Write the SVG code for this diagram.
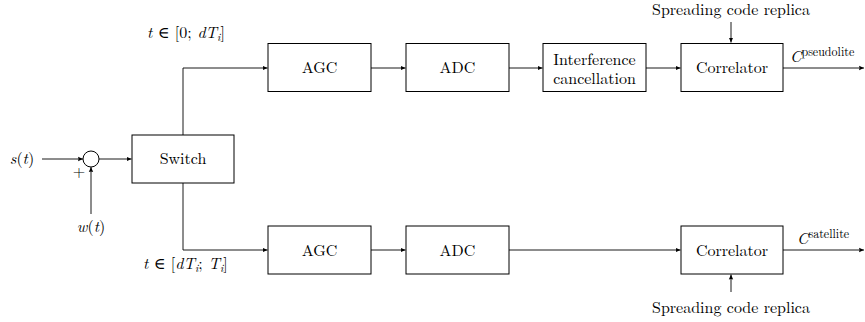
<svg xmlns="http://www.w3.org/2000/svg" width="865" height="322" viewBox="0 0 865 322">
  <style>
    text { font-family: "Latin Modern Roman", "CMU Serif", "Liberation Serif", "Times New Roman", "DejaVu Serif", serif; font-size: 16px; fill: #000; }
    .c { text-anchor: middle; }
    .m { font-style: italic; }
    .up { font-style: normal; }
    .sup { font-size: 12px; font-style: normal; }
    .sub { font-size: 11px; font-style: italic; }
    .box { fill: #fff; stroke: #000; stroke-width: 1; }
    .wire { fill: none; stroke: #000; stroke-width: 0.9; }
  </style>
  <defs>
    <marker id="tip" markerUnits="userSpaceOnUse" markerWidth="6" markerHeight="6" refX="5" refY="3" orient="auto">
      <path d="M0,0.8 L5,3 L0,5.2 Q1.2,3 0,0.8 z" fill="#000"/>
    </marker>
  </defs>

  <!-- connectors -->
  <g id="connectors">
    <line class="wire" x1="42" y1="159" x2="83" y2="159" marker-end="url(#tip)"/>
    <line class="wire" x1="91" y1="214" x2="91" y2="167" marker-end="url(#tip)"/>
    <line class="wire" x1="99" y1="159" x2="131.5" y2="159" marker-end="url(#tip)"/>
    <polyline class="wire" points="183,135 183,68 267.5,68" marker-end="url(#tip)"/>
    <polyline class="wire" points="183,183 183,250 267.5,250" marker-end="url(#tip)"/>
    <line class="wire" x1="371" y1="68" x2="405.5" y2="68" marker-end="url(#tip)"/>
    <line class="wire" x1="509" y1="68" x2="542.5" y2="68" marker-end="url(#tip)"/>
    <line class="wire" x1="646" y1="68" x2="680.5" y2="68" marker-end="url(#tip)"/>
    <line class="wire" x1="783" y1="68" x2="864" y2="68" marker-end="url(#tip)"/>
    <line class="wire" x1="731" y1="22" x2="731" y2="42.5" marker-end="url(#tip)"/>
    <line class="wire" x1="371" y1="250" x2="405.5" y2="250" marker-end="url(#tip)"/>
    <line class="wire" x1="509" y1="250" x2="680.5" y2="250" marker-end="url(#tip)"/>
    <line class="wire" x1="783" y1="250" x2="864" y2="250" marker-end="url(#tip)"/>
    <line class="wire" x1="731" y1="292" x2="731" y2="274.5" marker-end="url(#tip)"/>
  </g>

  <!-- input and noise -->
  <g id="input">
    <text x="22" y="164" class="c m">s<tspan class="up">(</tspan>t<tspan class="up">)</tspan></text>
  </g>
  <g id="adder">
    <circle cx="91" cy="159" r="8" class="box"/>
    <text x="79" y="177" class="c">+</text>
  </g>
  <g id="noise">
    <text x="91" y="232" class="c m">w<tspan class="up">(</tspan>t<tspan class="up">)</tspan></text>
  </g>

  <g id="switch">
    <rect x="132" y="135" width="102" height="48" class="box"/>
    <text x="183" y="164" class="c">Switch</text>
  </g>

  <!-- branch labels -->
  <g id="label-top">
    <text x="147" y="38" class="m">t<tspan class="up"> ∈ [0;</tspan> dT<tspan class="sub" dy="3">i</tspan><tspan class="up" dy="-3">]</tspan></text>
  </g>
  <g id="label-bottom">
    <text x="143" y="269" class="m">t<tspan class="up"> ∈ [</tspan>dT<tspan class="sub" dy="3">i</tspan><tspan dy="-3" class="up">;</tspan> T<tspan class="sub" dy="3">i</tspan><tspan class="up" dy="-3">]</tspan></text>
  </g>

  <!-- pseudolite branch -->
  <g id="agc-top">
    <rect x="268" y="43.5" width="103" height="48" class="box"/>
    <text x="319.5" y="73" class="c">AGC</text>
  </g>
  <g id="adc-top">
    <rect x="406" y="43.5" width="103" height="48" class="box"/>
    <text x="457.5" y="73" class="c">ADC</text>
  </g>
  <g id="interference">
    <rect x="543" y="43.5" width="103" height="48" class="box"/>
    <text x="594.5" y="65" class="c">Interference</text>
    <text x="594.5" y="83.5" class="c">cancellation</text>
  </g>
  <g id="correlator-top">
    <rect x="681" y="43.5" width="102" height="48" class="box"/>
    <text x="732" y="73" class="c">Correlator</text>
  </g>
  <g id="replica-top">
    <text x="731" y="15" class="c">Spreading code replica</text>
  </g>
  <g id="out-top">
    <text x="790" y="62" class="m">C<tspan class="sup" dy="-6">pseudolite</tspan></text>
  </g>

  <!-- satellite branch -->
  <g id="agc-bottom">
    <rect x="268" y="226" width="103" height="48" class="box"/>
    <text x="319.5" y="255.5" class="c">AGC</text>
  </g>
  <g id="adc-bottom">
    <rect x="406" y="226" width="103" height="48" class="box"/>
    <text x="457.5" y="255.5" class="c">ADC</text>
  </g>
  <g id="correlator-bottom">
    <rect x="681" y="226" width="102" height="48" class="box"/>
    <text x="732" y="255.5" class="c">Correlator</text>
  </g>
  <g id="replica-bottom">
    <text x="731" y="313" class="c">Spreading code replica</text>
  </g>
  <g id="out-bottom">
    <text x="797" y="244" class="m">C<tspan class="sup" dy="-6">satellite</tspan></text>
  </g>
</svg>
